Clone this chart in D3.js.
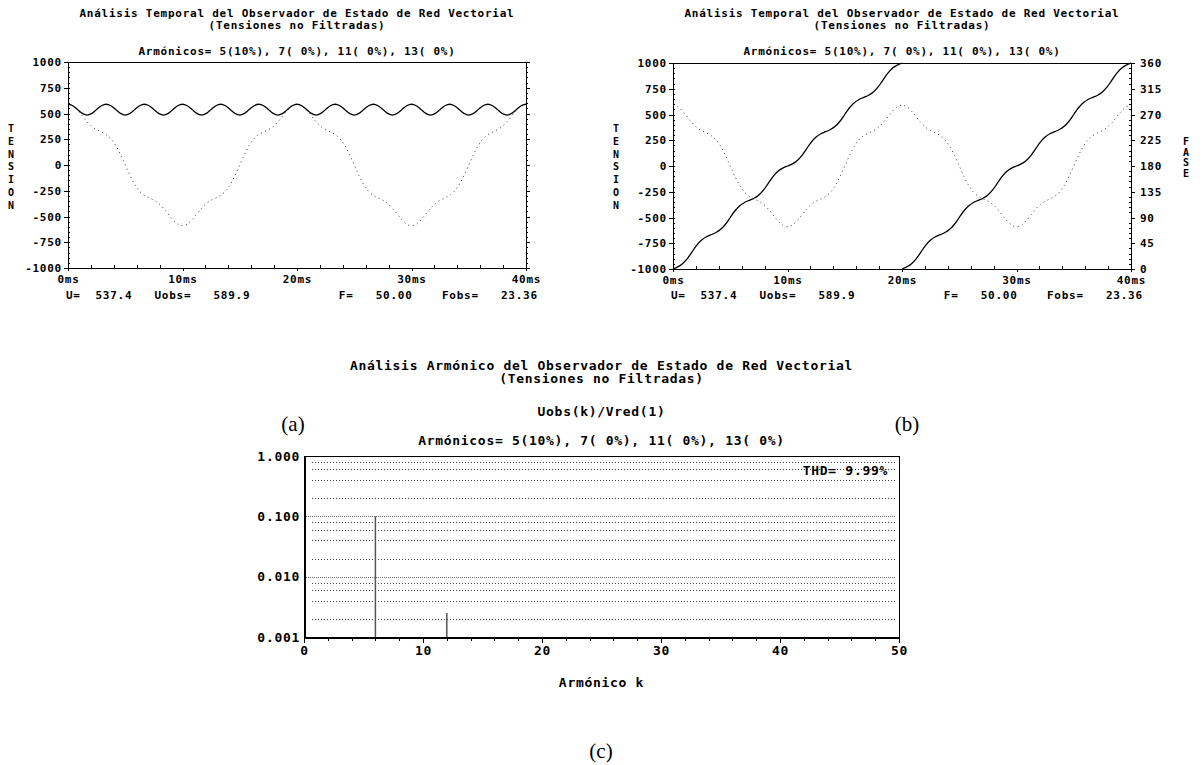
<!DOCTYPE html>
<html>
<head>
<meta charset="utf-8">
<script src="https://cdn.jsdelivr.net/npm/d3@7"></script>
<style>
body { margin: 0; background: #fff; }
text { font-family: "DejaVu Sans Mono", monospace; font-weight: bold; fill: #000; }
.t11 { font-size: 11px; letter-spacing: 0.75px; }
.t13 { font-size: 13px; letter-spacing: 0.7px; }
.t10 { font-size: 10px; }
.cap { font-family: "Liberation Serif", serif; font-weight: normal; font-size: 21px; }
.ax path, .ax line { stroke: #000; stroke-width: 1; shape-rendering: crispEdges; }
.ax text { font-size: 11px; letter-spacing: 0.75px; }
.axc text { font-size: 13px; letter-spacing: 0.7px; }
.axc path, .axc line { stroke: #000; shape-rendering: crispEdges; }
</style>
</head>
<body>
<script>
// ---- texts ----
var titleTemporal = ["Análisis Temporal del Observador de Estado de Red Vectorial", "(Tensiones no Filtradas)"];
var titleHarm = ["Análisis Armónico del Observador de Estado de Red Vectorial", "(Tensiones no Filtradas)"];
var harmonicsLine = "Armónicos= 5(10%), 7( 0%), 11( 0%), 13( 0%)";
var infoLine = "U=  537.4   Uobs=   589.9            F=   50.00    Fobs=   23.36";
var leftLetters = ["T", "E", "N", "S", "I", "O", "N"];
var rightLetters = ["F", "A", "S", "E"];

// ---- tick values ----
var timeTicks = [0, 10, 20, 30, 40];
var timeMinor = [2, 4, 6, 8, 12, 14, 16, 18, 22, 24, 26, 28, 32, 34, 36, 38];
var voltTicks = [-1000, -750, -500, -250, 0, 250, 500, 750, 1000];
var voltMinor = [-950, -900, -850, -800, -700, -650, -600, -550, -450, -400, -350, -300, -200, -150, -100, -50,
                 50, 100, 150, 200, 300, 350, 400, 450, 550, 600, 650, 700, 800, 850, 900, 950];
var phaseTicks = [0, 45, 90, 135, 180, 225, 270, 315, 360];
var phaseMinor = [9, 18, 27, 36, 54, 63, 72, 81, 99, 108, 117, 126, 144, 153, 162, 171, 189, 198, 207, 216,
                  234, 243, 252, 261, 279, 288, 297, 306, 324, 333, 342, 351];
var harmTicks = [0, 10, 20, 30, 40, 50];
var harmMinor = [2, 4, 6, 8, 12, 14, 16, 18, 22, 24, 26, 28, 32, 34, 36, 38, 42, 44, 46, 48];
var ratioTicks = [1, 0.1, 0.01, 0.001];
var gridMinor = [0.002, 0.004, 0.006, 0.008, 0.02, 0.04, 0.06, 0.08, 0.2, 0.4, 0.6, 0.8];
var gridMajor = [0.01, 0.1];

// ---- waveform samples ----
var timeMs = [0, 0.417, 0.833, 1.25, 1.667, 2.083, 2.5, 2.917, 3.333, 3.75, 4.167, 4.583, 5, 5.417, 5.833, 6.25, 6.667, 7.083, 7.5, 7.917, 8.333, 8.75, 9.167, 9.583, 10,
  10.417, 10.833, 11.25, 11.667, 12.083, 12.5, 12.917, 13.333, 13.75, 14.167, 14.583, 15, 15.417, 15.833, 16.25, 16.667, 17.083, 17.5, 17.917, 18.333, 18.75, 19.167, 19.583, 20,
  20.417, 20.833, 21.25, 21.667, 22.083, 22.5, 22.917, 23.333, 23.75, 24.167, 24.583, 25, 25.417, 25.833, 26.25, 26.667, 27.083, 27.5, 27.917, 28.333, 28.75, 29.167, 29.583, 30,
  30.417, 30.833, 31.25, 31.667, 32.083, 32.5, 32.917, 33.333, 33.75, 34.167, 34.583, 35, 35.417, 35.833, 36.25, 36.667, 37.083, 37.5, 37.917, 38.333, 38.75, 39.167, 39.583, 40];

// |Uobs| (solid, panel a)
var uMag = [590, 575.7, 539.6, 500.9, 484, 500.9, 539.6, 575.7, 590, 575.7, 539.6, 500.9, 484, 500.9, 539.6, 575.7,
  590, 575.7, 539.6, 500.9, 484, 500.9, 539.6, 575.7, 590, 575.7, 539.6, 500.9, 484, 500.9, 539.6, 575.7,
  590, 575.7, 539.6, 500.9, 484, 500.9, 539.6, 575.7, 590, 575.7, 539.6, 500.9, 484, 500.9, 539.6, 575.7,
  590, 575.7, 539.6, 500.9, 484, 500.9, 539.6, 575.7, 590, 575.7, 539.6, 500.9, 484, 500.9, 539.6, 575.7,
  590, 575.7, 539.6, 500.9, 484, 500.9, 539.6, 575.7, 590, 575.7, 539.6, 500.9, 484, 500.9, 539.6, 575.7,
  590, 575.7, 539.6, 500.9, 484, 500.9, 539.6, 575.7, 590, 575.7, 539.6, 500.9, 484, 500.9, 539.6, 575.7, 590];

// real component (dotted, panels a and b)
var uReal = [590, 574.4, 532.4, 475.8, 419.2, 373.5, 342.2, 320, 295, 254.5, 190.2, 102.4, 0, -102.4, -190.2, -254.5, -295, -320, -342.2, -373.5, -419.2, -475.8, -532.4, -574.4, -590,
  -574.4, -532.4, -475.8, -419.2, -373.5, -342.2, -320, -295, -254.5, -190.2, -102.4, 0, 102.4, 190.2, 254.5, 295, 320, 342.2, 373.5, 419.2, 475.8, 532.4, 574.4, 590,
  574.4, 532.4, 475.8, 419.2, 373.5, 342.2, 320, 295, 254.5, 190.2, 102.4, 0, -102.4, -190.2, -254.5, -295, -320, -342.2, -373.5, -419.2, -475.8, -532.4, -574.4, -590,
  -574.4, -532.4, -475.8, -419.2, -373.5, -342.2, -320, -295, -254.5, -190.2, -102.4, 0, 102.4, 190.2, 254.5, 295, 320, 342.2, 373.5, 419.2, 475.8, 532.4, 574.4, 590];

// phase in degrees (solid, panel b), one array per 20 ms cycle
var phase1 = [0, 3.72, 9.29, 18.15, 30, 41.85, 50.71, 56.28, 60, 63.72, 69.29, 78.15, 90, 101.85, 110.71, 116.28,
  120, 123.72, 129.29, 138.15, 150, 161.85, 170.71, 176.28, 180, 183.72, 189.29, 198.15, 210, 221.85, 230.71, 236.28,
  240, 243.72, 249.29, 258.15, 270, 281.85, 290.71, 296.28, 300, 303.72, 309.29, 318.15, 330, 341.85, 350.71, 356.28, 360];
var phase2 = [0, 3.72, 9.29, 18.15, 30, 41.85, 50.71, 56.28, 60, 63.72, 69.29, 78.15, 90, 101.85, 110.71, 116.28,
  120, 123.72, 129.29, 138.15, 150, 161.85, 170.71, 176.28, 180, 183.72, 189.29, 198.15, 210, 221.85, 230.71, 236.28,
  240, 243.72, 249.29, 258.15, 270, 281.85, 290.71, 296.28, 300, 303.72, 309.29, 318.15, 330, 341.85, 350.71, 356.28, 360];

// ---- harmonic spectrum ----
var harmK = [6, 12];
var harmVal = [0.1, 0.0025];
var thdLabel = "THD= 9.99%";

var svg = d3.select("body").append("svg")
    .attr("width", 1203)
    .attr("height", 765);

function addText(g, x, y, s, cls, anchor) {
    return g.append("text")
        .attr("x", x)
        .attr("y", y)
        .attr("class", cls || "t11")
        .attr("text-anchor", anchor || "middle")
        .style("white-space", "pre")
        .text(s);
}

function timePanel(p) {
    var g = svg.append("g");
    var x = d3.scaleLinear().domain([0, 40]).range([p.x0, p.x1]);
    var y = d3.scaleLinear().domain([-1000, 1000]).range([p.y1, p.y0]);
    var cx = (p.x0 + p.x1) / 2;

    addText(g, cx, 17, titleTemporal[0]);
    addText(g, cx, 29, titleTemporal[1]);
    addText(g, cx, 55, harmonicsLine);

    // top border
    g.append("line")
        .attr("x1", p.x0).attr("x2", p.x1)
        .attr("y1", p.y0 + 0.5).attr("y2", p.y0 + 0.5)
        .attr("stroke", "#000");

    // left axis
    g.append("g").attr("class", "ax")
        .attr("transform", "translate(" + p.x0 + ",0)")
        .call(d3.axisLeft(y).tickValues(voltTicks).tickSize(4).tickSizeOuter(0).tickPadding(2)
            .tickFormat(function(d) { return String(d); }));
    g.append("g").attr("class", "ax")
        .attr("transform", "translate(" + p.x0 + ",0)")
        .call(d3.axisRight(y).tickValues(voltMinor.concat(voltTicks)).tickSize(2).tickSizeOuter(0).tickFormat(""));

    // bottom axis
    g.append("g").attr("class", "ax")
        .attr("transform", "translate(0," + p.y1 + ")")
        .call(d3.axisBottom(x).tickValues(timeTicks).tickSize(3).tickSizeOuter(0).tickPadding(4)
            .tickFormat(function(d) { return d + "ms"; }));
    g.append("g").attr("class", "ax")
        .attr("transform", "translate(0," + p.y1 + ")")
        .call(d3.axisTop(x).tickValues(timeMinor).tickSize(3).tickSizeOuter(0).tickFormat(""));

    // right axis
    var yp = d3.scaleLinear().domain([0, 360]).range([p.y1, p.y0]);
    if (p.phase) {
        g.append("g").attr("class", "ax")
            .attr("transform", "translate(" + p.x1 + ",0)")
            .call(d3.axisRight(yp).tickValues(phaseTicks).tickSize(4).tickSizeOuter(0).tickPadding(5)
                .tickFormat(function(d) { return String(d); }));
        g.append("g").attr("class", "ax")
            .attr("transform", "translate(" + p.x1 + ",0)")
            .call(d3.axisLeft(yp).tickValues(phaseMinor).tickSize(2).tickSizeOuter(0).tickFormat(""));
    } else {
        g.append("g").attr("class", "ax")
            .attr("transform", "translate(" + p.x1 + ",0)")
            .call(d3.axisRight(y).tickValues(voltTicks).tickSize(4).tickSizeOuter(0).tickFormat(""));
        g.append("g").attr("class", "ax")
            .attr("transform", "translate(" + p.x1 + ",0)")
            .call(d3.axisRight(y).tickValues(voltMinor).tickSize(2).tickSizeOuter(0).tickFormat(""));
    }

    // vertical "TENSION" label
    g.selectAll(".lt").data(leftLetters).enter().append("text")
        .attr("class", "t10")
        .attr("text-anchor", "middle")
        .attr("x", p.x0 - 57)
        .attr("y", function(d, i) { return 132 + i * 12.8; })
        .text(function(d) { return d; });

    if (p.phase) {
        g.selectAll(".rt").data(rightLetters).enter().append("text")
            .attr("class", "t10")
            .attr("text-anchor", "middle")
            .attr("x", p.x1 + 55)
            .attr("y", function(d, i) { return 145 + i * 10.7; })
            .text(function(d) { return d; });
    }

    addText(g, p.x0 - 2, 299, infoLine, "t11", "start");

    var line = d3.line()
        .x(function(d) { return x(d[0]); })
        .y(function(d) { return d[1]; })
        .curve(d3.curveCatmullRom);

    // dotted real component
    g.append("path")
        .attr("d", line(timeMs.map(function(t, i) { return [t, y(uReal[i])]; })))
        .attr("fill", "none")
        .attr("stroke", "#333")
        .attr("stroke-width", 1)
        .attr("stroke-dasharray", "1,3.5");

    if (p.phase) {
        var t1 = timeMs.slice(0, 49), t2 = timeMs.slice(48);
        [[t1, phase1], [t2, phase2]].forEach(function(c) {
            g.append("path")
                .attr("d", line(c[0].map(function(t, i) { return [t, yp(c[1][i])]; })))
                .attr("fill", "none")
                .attr("stroke", "#000")
                .attr("stroke-width", 1.3);
        });
    } else {
        g.append("path")
            .attr("d", line(timeMs.map(function(t, i) { return [t, y(uMag[i])]; })))
            .attr("fill", "none")
            .attr("stroke", "#000")
            .attr("stroke-width", 1.3);
    }
}

timePanel({ x0: 68, x1: 526, y0: 62, y1: 268, phase: false });
timePanel({ x0: 673, x1: 1131, y0: 63, y1: 269, phase: true });

addText(svg, 293, 431, "(a)", "cap");
addText(svg, 907, 431, "(b)", "cap");

// ---- harmonic panel (c) ----
(function() {
    var g = svg.append("g");
    var x0 = 304, x1 = 899, y0 = 456, y1 = 637;
    var x = d3.scaleLinear().domain([0, 50]).range([x0, x1]);
    var y = d3.scaleLog().domain([0.001, 1]).range([y1, y0]);
    var cx = (x0 + x1) / 2;

    addText(g, cx, 370, titleHarm[0], "t13");
    addText(g, cx, 383, titleHarm[1], "t13");
    addText(g, cx, 416, "Uobs(k)/Vred(1)", "t13");
    addText(g, cx, 445, harmonicsLine, "t13");

    g.selectAll(".gmin").data(gridMinor).enter().append("line")
        .attr("x1", x0 + 8).attr("x2", x1 - 3)
        .attr("y1", function(d) { return Math.round(y(d)) + 0.5; })
        .attr("y2", function(d) { return Math.round(y(d)) + 0.5; })
        .attr("stroke", "#444")
        .attr("stroke-dasharray", "1,2");
    g.selectAll(".gmaj").data(gridMajor).enter().append("line")
        .attr("x1", x0 + 2).attr("x2", x1 - 3)
        .attr("y1", function(d) { return Math.round(y(d)) + 0.5; })
        .attr("y2", function(d) { return Math.round(y(d)) + 0.5; })
        .attr("stroke", "#666")
        .attr("stroke-dasharray", "1,1");

    // top and right borders
    g.append("line").attr("x1", x0).attr("x2", x1).attr("y1", y0 + 0.5).attr("y2", y0 + 0.5).attr("stroke", "#000");
    g.append("line").attr("x1", x1 + 0.5).attr("x2", x1 + 0.5).attr("y1", y0).attr("y2", y1).attr("stroke", "#000");

    // spectrum lines
    g.selectAll(".bar").data(harmK).enter().append("line")
        .attr("x1", function(d) { return x(d); })
        .attr("x2", function(d) { return x(d); })
        .attr("y1", y(0.001))
        .attr("y2", function(d, i) { return y(harmVal[i]); })
        .attr("stroke", "#555")
        .attr("stroke-width", 1.5);

    g.append("g").attr("class", "axc")
        .attr("transform", "translate(" + x0 + ",0)")
        .call(d3.axisLeft(y).tickValues(ratioTicks).tickSize(0).tickSizeOuter(0).tickPadding(4)
            .tickFormat(d3.format(".3f")))
        .select(".domain").attr("stroke-width", 2);

    g.append("g").attr("class", "axc")
        .attr("transform", "translate(0," + y1 + ")")
        .call(d3.axisBottom(x).tickValues(harmTicks).tickSize(6).tickSizeOuter(0).tickPadding(3))
        .select(".domain").attr("stroke-width", 2);
    g.append("g").attr("class", "axc")
        .attr("transform", "translate(0," + y1 + ")")
        .call(d3.axisBottom(x).tickValues(harmMinor).tickSize(4).tickSizeOuter(0).tickFormat(""));

    addText(g, 888, 475, thdLabel, "t13", "end");
    addText(g, cx, 687, "Armónico k", "t13");
})();

addText(svg, 601, 758, "(c)", "cap");
</script>
</body>
</html>
